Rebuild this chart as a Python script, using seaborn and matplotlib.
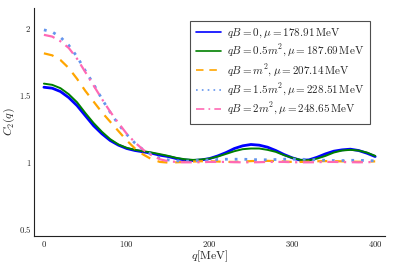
import numpy as np
import pandas as pd
import seaborn as sns
import matplotlib
matplotlib.use("Agg")
import matplotlib.pyplot as plt

q = list(range(0, 401, 10))

c_qb0 = [1.557, 1.55, 1.525, 1.48, 1.42, 1.345, 1.27, 1.21, 1.16, 1.125, 1.10,
         1.085, 1.075, 1.065, 1.05, 1.04, 1.025, 1.015, 1.01, 1.015, 1.025,
         1.045, 1.07, 1.10, 1.12, 1.13, 1.125, 1.11, 1.085, 1.055, 1.03,
         1.012, 1.015, 1.035, 1.06, 1.08, 1.09, 1.095, 1.085, 1.065, 1.04]
c_qb05 = [1.584, 1.575, 1.55, 1.505, 1.445, 1.365, 1.29, 1.225, 1.17, 1.13, 1.105,
          1.09, 1.08, 1.07, 1.058, 1.045, 1.03, 1.02, 1.015, 1.018, 1.025,
          1.04, 1.06, 1.08, 1.095, 1.10, 1.10, 1.09, 1.075, 1.05, 1.03,
          1.015, 1.012, 1.025, 1.045, 1.07, 1.085, 1.09, 1.085, 1.07, 1.045]
c_qb1 = [1.81, 1.795, 1.76, 1.70, 1.62, 1.53, 1.45, 1.37, 1.30, 1.23, 1.16,
         1.10, 1.055, 1.02, 1.0, 0.995, 0.997, 1.0, 1.003, 1.005, 1.005,
         1.003, 1.0, 1.0, 1.002, 1.006, 1.008, 1.008, 1.006, 1.003, 1.0,
         1.0, 1.002, 1.005, 1.006, 1.006, 1.004, 1.002, 1.001, 1.002, 1.004]
c_qb15 = [1.985, 1.97, 1.93, 1.87, 1.785, 1.68, 1.58, 1.47, 1.37, 1.28, 1.205,
          1.14, 1.09, 1.055, 1.03, 1.015, 1.008, 1.005, 1.008, 1.012, 1.015,
          1.018, 1.02, 1.02, 1.02, 1.018, 1.016, 1.016, 1.018, 1.02, 1.02,
          1.02, 1.018, 1.015, 1.012, 1.01, 1.01, 1.012, 1.012, 1.01, 1.008]
c_qb2 = [1.948, 1.935, 1.90, 1.85, 1.77, 1.67, 1.57, 1.47, 1.375, 1.29, 1.21,
         1.145, 1.09, 1.05, 1.02, 1.005, 1.0, 0.997, 0.997, 0.998, 1.0,
         1.0, 1.0, 0.998, 0.997, 0.997, 0.998, 1.0, 1.0, 1.0, 0.998,
         0.997, 0.997, 0.998, 1.0, 1.0, 0.999, 0.998, 0.997, 0.998, 1.0]

labels = [r"$qB = 0, \mu = 178.91\,\mathrm{MeV}$",
          r"$qB = 0.5m^2, \mu = 187.69\,\mathrm{MeV}$",
          r"$qB = m^2, \mu = 207.14\,\mathrm{MeV}$",
          r"$qB = 1.5m^2, \mu = 228.51\,\mathrm{MeV}$",
          r"$qB = 2m^2, \mu = 248.65\,\mathrm{MeV}$"]
series = [c_qb0, c_qb05, c_qb1, c_qb15, c_qb2]

xticks = [0, 100, 200, 300, 400]
yticks = [0.5, 1, 1.5, 2]

sns.set_style("white")
plt.rcParams['mathtext.fontset'] = 'cm'
plt.rcParams['font.family'] = ['DejaVu Serif']

fig = plt.figure(figsize=(3.95, 2.63), dpi=100)
ax = fig.add_axes([0.086, 0.103, 0.889, 0.867])

styles = [
    dict(color='#0000ff', lw=2.0, ls='-'),
    dict(color='#008000', lw=1.4, ls='-'),
    dict(color='#ffa500', lw=1.6, ls=(0, (4.5, 3.5))),
    dict(color='#6495ed', lw=2.0, ls=(0, (1, 2.5))),
    dict(color='#ff69b4', lw=1.6, ls=(0, (5, 2.5, 1, 2.5))),
]

for vals, lab, st in zip(series, labels, styles):
    df = pd.DataFrame({'q': q, 'C2': vals})
    sns.lineplot(data=df, x='q', y='C2', ax=ax, label=lab, color=st['color'],
                 linewidth=st['lw'], linestyle=st['ls'])

ax.set_xlim(-12, 412)
ax.set_ylim(0.448, 2.149)
ax.set_xticks(xticks)
ax.set_xticklabels([f"${t}$" for t in xticks])
ax.set_yticks(yticks)
ax.set_yticklabels([f"${t}$" for t in yticks])
ax.tick_params(direction='in', length=3, width=0.6, labelsize=6.3,
               colors='#222222', pad=2)
for s in ['top', 'right']:
    ax.spines[s].set_visible(False)
for s in ['left', 'bottom']:
    ax.spines[s].set_color('#222222')
    ax.spines[s].set_linewidth(0.8)
ax.set_xlabel(r"$q[\mathrm{MeV}]$", fontsize=8.5, labelpad=0)
ax.set_ylabel(r"$C_2(q)$", fontsize=8.5, labelpad=1)

leg = ax.legend(loc='upper right', bbox_to_anchor=(0.974, 0.969), fontsize=8,
                frameon=True, fancybox=False, edgecolor='#222222',
                handlelength=2.2, handletextpad=0.6, borderpad=0.55,
                labelspacing=0.3)
leg.get_frame().set_linewidth(0.8)
for h in leg.get_lines():
    h.set_linewidth(1.2)

fig.savefig("out.png", dpi=100)
